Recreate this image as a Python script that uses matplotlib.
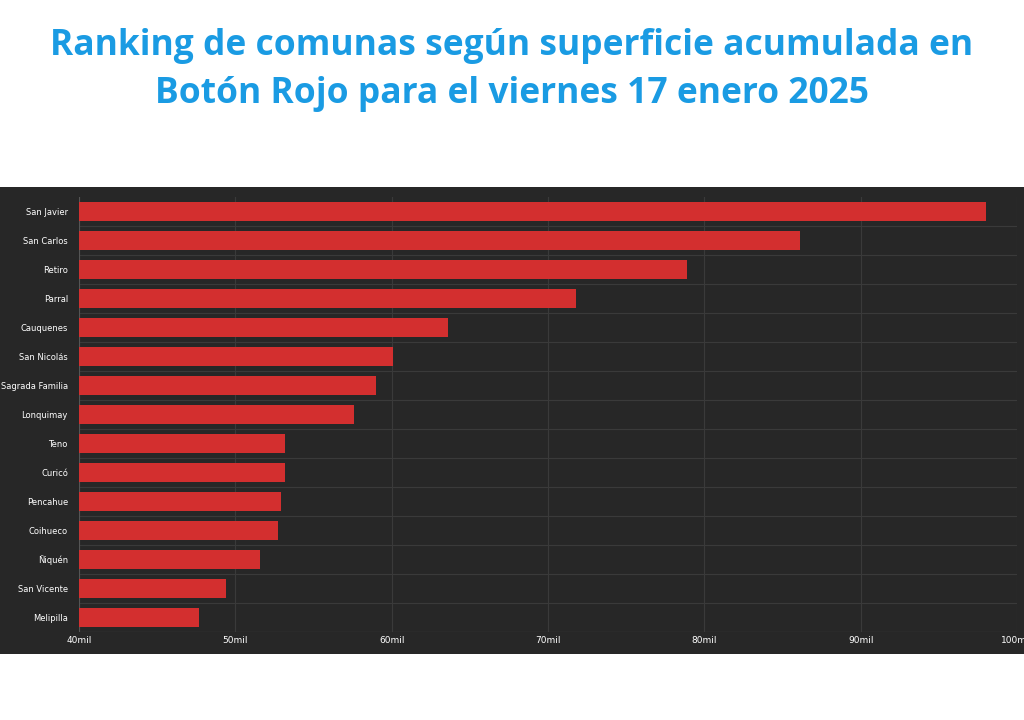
import matplotlib
matplotlib.use("Agg")
import matplotlib.pyplot as plt
from matplotlib.ticker import FuncFormatter

comunas = ["San Javier", "San Carlos", "Retiro", "Parral", "Cauquenes", "San Nicolás",
           "Sagrada Familia", "Lonquimay", "Teno", "Curicó", "Pencahue", "Coihueco",
           "Ñiquén", "San Vicente", "Melipilla"]
superficie = [98000, 86100, 78900, 71800, 63600, 60100, 59000, 57600,
              53200, 53200, 52900, 52700, 51600, 49400, 47700]
ticks = [40000, 50000, 60000, 70000, 80000, 90000, 100000]

fig = plt.figure(figsize=(10.24, 7.2), dpi=100)
fig.patch.set_facecolor("white")
fig.text(0.5, 1 - 70 / 720, "Ranking de comunas según superficie acumulada en\nBotón Rojo para el viernes 17 enero 2025",
         ha="center", va="center", fontsize=25.5, fontweight="bold", color="#1a9be3",
         family="Open Sans", linespacing=1.45)

# dark panel
panel = fig.add_axes([0, 1 - 654 / 720, 1, (654 - 187) / 720])
panel.set_facecolor("#272727")
panel.set_xticks([]); panel.set_yticks([])
for s in panel.spines.values():
    s.set_visible(False)

ax = fig.add_axes([79 / 1024, 1 - 632 / 720, (1017 - 79) / 1024, (632 - 197) / 720])
ax.set_facecolor("#272727")
y = list(range(len(comunas)))
ax.barh(y, superficie, height=0.68, color="#d32f2f", zorder=3)
ax.set_ylim(len(comunas) - 0.5, -0.5)
ax.set_xlim(40000, 100000)
ax.set_xticks(ticks)
ax.xaxis.set_major_formatter(FuncFormatter(lambda v, p: f"{int(v / 1000)}mil"))
ax.set_yticks(y)
ax.set_yticklabels(comunas)
ax.tick_params(axis="y", colors="white", labelsize=6, length=0, pad=8)
ax.tick_params(axis="x", colors="white", labelsize=6.5, length=0, pad=3)
ax.set_yticks([i + 0.5 for i in y], minor=True)
ax.grid(True, which="minor", axis="y", color="#3a3a3a", lw=0.8)
ax.grid(True, which="major", axis="x", color="#3a3a3a", lw=0.8)
ax.tick_params(which="minor", length=0)
for s in ax.spines.values():
    s.set_visible(False)
ax.axvline(40000, color="#555555", lw=0.8)
ax.axhline(len(comunas) - 0.5, color="#555555", lw=0.8)

fig.savefig("out.png", dpi=100)
